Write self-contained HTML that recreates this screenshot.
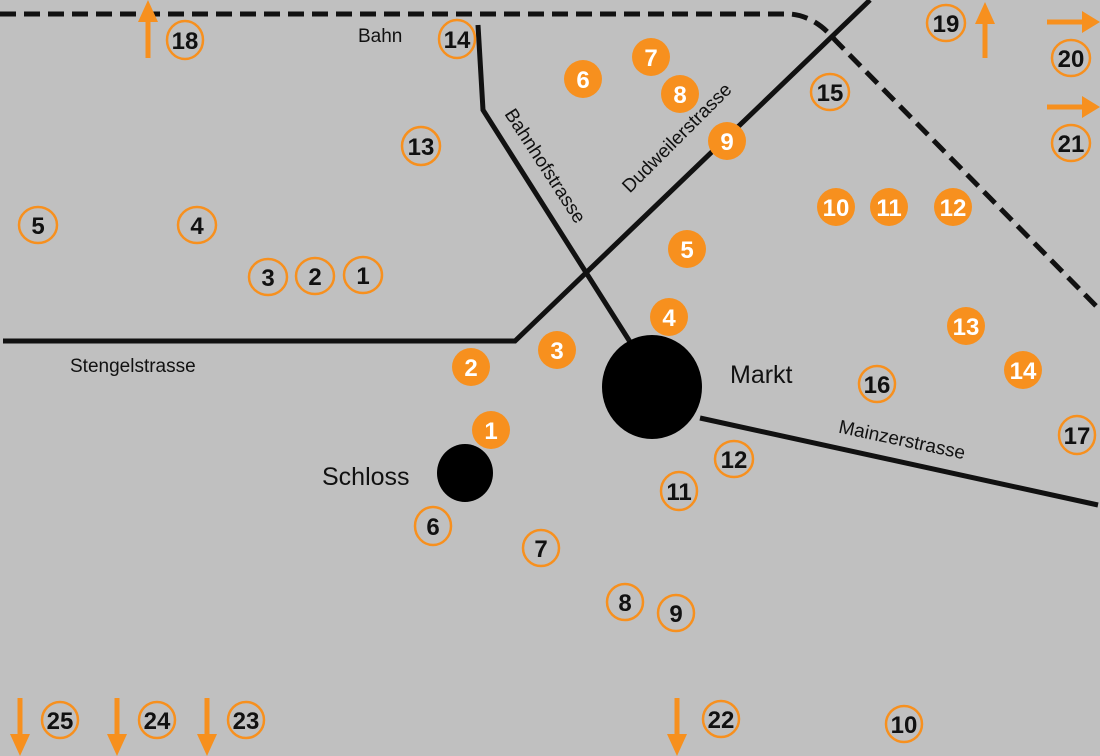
<!DOCTYPE html>
<html><head><meta charset="utf-8"><style>
html,body{margin:0;padding:0;background:#c0c0c0;}
svg{display:block;font-family:"Liberation Sans",Arial,sans-serif;}
.o{fill:none;stroke:#f7901e;stroke-width:2.5}
.f{fill:#f7901e}
.ob{font-weight:bold;font-size:24px;fill:#111;text-anchor:middle}
.fb{font-weight:bold;font-size:24px;fill:#fff;text-anchor:middle}
.lab{font-size:19px;fill:#111}
</style></head><body>
<svg width="1100" height="756" viewBox="0 0 1100 756">
<rect width="1100" height="756" fill="#c0c0c0"/>
<!-- dashed railway -->
<path d="M0,14 L790,14 Q815,16 835,40 L1100,310" fill="none" stroke="#111" stroke-width="5" stroke-dasharray="16,8"/>
<!-- streets -->
<polyline points="3,341 515,341 870,0" fill="none" stroke="#111" stroke-width="5"/>
<polyline points="478,25 483,110 632,345" fill="none" stroke="#111" stroke-width="5"/>
<line x1="700" y1="418" x2="1098" y2="505" stroke="#111" stroke-width="5"/>
<ellipse cx="652" cy="387" rx="50" ry="52" fill="#000"/>
<ellipse cx="465" cy="473" rx="28" ry="29" fill="#000"/>
<!-- labels -->
<text class="lab" x="358" y="42">Bahn</text>
<text class="lab" x="70" y="372">Stengelstrasse</text>
<text x="730" y="383" style="font-size:25px;fill:#111">Markt</text>
<text x="322" y="485" style="font-size:25px;fill:#111">Schloss</text>
<text class="lab" transform="translate(545,166) rotate(57)" text-anchor="middle" dy="6">Bahnhofstrasse</text>
<text class="lab" transform="translate(677,138) rotate(-45)" text-anchor="middle" dy="6">Dudweilerstrasse</text>
<text class="lab" transform="translate(902,440) rotate(12)" text-anchor="middle" dy="6">Mainzerstrasse</text>
<!-- arrows -->
<g fill="#f7901e" stroke="#f7901e">
<line x1="148" y1="58" x2="148" y2="18" stroke-width="5"/><polygon points="138,22 158,22 148,0" stroke="none"/>
<line x1="985" y1="58" x2="985" y2="20" stroke-width="5"/><polygon points="975,24 995,24 985,2" stroke="none"/>
<line x1="1047" y1="22" x2="1085" y2="22" stroke-width="5"/><polygon points="1082,11 1082,33 1100,22" stroke="none"/>
<line x1="1047" y1="107" x2="1085" y2="107" stroke-width="5"/><polygon points="1082,96 1082,118 1100,107" stroke="none"/>
<line x1="20" y1="698" x2="20" y2="738" stroke-width="5"/><polygon points="10,734 30,734 20,756" stroke="none"/>
<line x1="117" y1="698" x2="117" y2="738" stroke-width="5"/><polygon points="107,734 127,734 117,756" stroke="none"/>
<line x1="207" y1="698" x2="207" y2="738" stroke-width="5"/><polygon points="197,734 217,734 207,756" stroke="none"/>
<line x1="677" y1="698" x2="677" y2="738" stroke-width="5"/><polygon points="667,734 687,734 677,756" stroke="none"/>
</g>
<!-- outline circles -->
<g>
<ellipse class="o" cx="185" cy="40" rx="18" ry="19"/><text class="ob" x="185" y="49">18</text>
<ellipse class="o" cx="457" cy="39" rx="18" ry="19"/><text class="ob" x="457" y="48">14</text>
<ellipse class="o" cx="421" cy="146" rx="19" ry="19"/><text class="ob" x="421" y="155">13</text>
<ellipse class="o" cx="38" cy="225" rx="19" ry="18"/><text class="ob" x="38" y="234">5</text>
<ellipse class="o" cx="197" cy="225" rx="19" ry="18"/><text class="ob" x="197" y="234">4</text>
<ellipse class="o" cx="268" cy="277" rx="19" ry="18"/><text class="ob" x="268" y="286">3</text>
<ellipse class="o" cx="315" cy="276" rx="19" ry="18"/><text class="ob" x="315" y="285">2</text>
<ellipse class="o" cx="363" cy="275" rx="19" ry="18"/><text class="ob" x="363" y="284">1</text>
<ellipse class="o" cx="830" cy="92" rx="19" ry="18"/><text class="ob" x="830" y="101">15</text>
<ellipse class="o" cx="946" cy="23" rx="19" ry="18"/><text class="ob" x="946" y="32">19</text>
<ellipse class="o" cx="1071" cy="58" rx="19" ry="18"/><text class="ob" x="1071" y="67">20</text>
<ellipse class="o" cx="1071" cy="143" rx="19" ry="18"/><text class="ob" x="1071" y="152">21</text>
<ellipse class="o" cx="877" cy="384" rx="18" ry="18"/><text class="ob" x="877" y="393">16</text>
<ellipse class="o" cx="1077" cy="435" rx="18" ry="19"/><text class="ob" x="1077" y="444">17</text>
<ellipse class="o" cx="734" cy="459" rx="19" ry="18"/><text class="ob" x="734" y="468">12</text>
<ellipse class="o" cx="679" cy="491" rx="18" ry="19"/><text class="ob" x="679" y="500">11</text>
<ellipse class="o" cx="433" cy="526" rx="18" ry="19"/><text class="ob" x="433" y="535">6</text>
<ellipse class="o" cx="541" cy="548" rx="18" ry="18"/><text class="ob" x="541" y="557">7</text>
<ellipse class="o" cx="625" cy="602" rx="18" ry="18"/><text class="ob" x="625" y="611">8</text>
<ellipse class="o" cx="676" cy="613" rx="18" ry="18"/><text class="ob" x="676" y="622">9</text>
<ellipse class="o" cx="60" cy="720" rx="18" ry="18"/><text class="ob" x="60" y="729">25</text>
<ellipse class="o" cx="157" cy="720" rx="18" ry="18"/><text class="ob" x="157" y="729">24</text>
<ellipse class="o" cx="246" cy="720" rx="18" ry="18"/><text class="ob" x="246" y="729">23</text>
<ellipse class="o" cx="721" cy="719" rx="18" ry="18"/><text class="ob" x="721" y="728">22</text>
<ellipse class="o" cx="904" cy="724" rx="18" ry="18"/><text class="ob" x="904" y="733">10</text>
</g>
<!-- filled circles -->
<g>
<ellipse class="f" cx="583" cy="79" rx="19" ry="19"/><text class="fb" x="583" y="88">6</text>
<ellipse class="f" cx="651" cy="57" rx="19" ry="19"/><text class="fb" x="651" y="66">7</text>
<ellipse class="f" cx="680" cy="94" rx="19" ry="19"/><text class="fb" x="680" y="103">8</text>
<ellipse class="f" cx="727" cy="141" rx="19" ry="19"/><text class="fb" x="727" y="150">9</text>
<ellipse class="f" cx="836" cy="207" rx="19" ry="19"/><text class="fb" x="836" y="216">10</text>
<ellipse class="f" cx="889" cy="207" rx="19" ry="19"/><text class="fb" x="889" y="216">11</text>
<ellipse class="f" cx="953" cy="207" rx="19" ry="19"/><text class="fb" x="953" y="216">12</text>
<ellipse class="f" cx="687" cy="249" rx="19" ry="19"/><text class="fb" x="687" y="258">5</text>
<ellipse class="f" cx="669" cy="317" rx="19" ry="19"/><text class="fb" x="669" y="326">4</text>
<ellipse class="f" cx="557" cy="350" rx="19" ry="19"/><text class="fb" x="557" y="359">3</text>
<ellipse class="f" cx="471" cy="367" rx="19" ry="19"/><text class="fb" x="471" y="376">2</text>
<ellipse class="f" cx="491" cy="430" rx="19" ry="19"/><text class="fb" x="491" y="439">1</text>
<ellipse class="f" cx="966" cy="326" rx="19" ry="19"/><text class="fb" x="966" y="335">13</text>
<ellipse class="f" cx="1023" cy="370" rx="19" ry="19"/><text class="fb" x="1023" y="379">14</text>
</g>
</svg>
</body></html>
